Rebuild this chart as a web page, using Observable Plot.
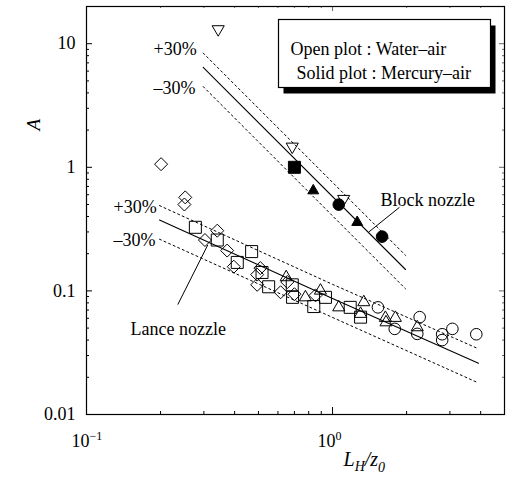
<!DOCTYPE html>
<html><head><meta charset="utf-8">
<script src="https://cdn.jsdelivr.net/npm/d3@7"></script>
<script src="https://cdn.jsdelivr.net/npm/@observablehq/plot@0.6"></script>
<style>body{margin:0;background:#fff} svg{display:block}</style>
</head><body><div id="chart"></div>
<script>
// ---- axis ticks / labels ----
const yMajorTicks = [0.01, 0.1, 1, 10];
const yTickLabels = ["0.01", "0.1", "1", "10"];
const yMinorTicks = [0.02,0.03,0.04,0.05,0.06,0.07,0.08,0.09,0.2,0.3,0.4,0.5,0.6,0.7,0.8,0.9,2,3,4,5,6,7,8,9];
const xMajorTicks = [0.1, 1];
const xTickBase = ["10", "10"];
const xTickExp = ["\u22121", "0"];
const xMinorTicks = [0.2,0.3,0.4,0.5,0.6,0.7,0.8,0.9,2,3,4];

// ---- Block nozzle data ----
const blockWaterDownX = [0.343, 0.686, 1.11];
const blockWaterDownA = [13.1, 1.47, 0.555];
const blockHgSquareX = [0.70];
const blockHgSquareA = [1.0];
const blockHgTriX = [0.835, 1.26];
const blockHgTriA = [0.647, 0.359];
const blockHgCircleX = [1.06, 1.59];
const blockHgCircleA = [0.499, 0.275];

// ---- Lance nozzle data (water-air, open) ----
const lanceDiamondX = [0.201, 0.252, 0.250, 0.34, 0.303, 0.373, 0.397, 0.509, 0.494, 0.494, 0.615, 0.655, 0.853, 0.70];
const lanceDiamondA = [1.06, 0.571, 0.50, 0.307, 0.258, 0.212, 0.157, 0.153, 0.1355, 0.112, 0.0975, 0.118, 0.092, 0.094];
const lanceSquareX = [0.277, 0.34, 0.469, 0.41, 0.517, 0.55, 0.686, 0.688, 0.936, 0.839, 1.18, 1.30];
const lanceSquareA = [0.327, 0.258, 0.208, 0.17, 0.141, 0.108, 0.112, 0.0887, 0.0887, 0.0747, 0.0736, 0.0613];
const lanceTriX = [0.648, 0.776, 0.893, 1.06, 1.34, 1.30, 1.64, 1.80, 1.65, 2.21];
const lanceTriA = [0.129, 0.0887, 0.1005, 0.0736, 0.081, 0.0652, 0.0605, 0.0605, 0.0557, 0.0508];
const lanceCircleX = [1.53, 1.79, 2.26, 2.21, 2.79, 2.79, 3.07, 3.84];
const lanceCircleA = [0.0736, 0.0493, 0.0613, 0.0449, 0.0446, 0.040, 0.0493, 0.0446];

// ---- correlation lines ----
const blockFitX = [0.298, 1.98];
const blockFitA = [6.43, 0.149];
const blockUpperA = [8.4, 0.194];
const blockLowerA = [4.5, 0.104];
const lanceFitX = [0.198, 1.0, 3.92];
const lanceFitA = [0.375, 0.087, 0.026];
const lanceUpperA = [0.49, 0.113, 0.034];
const lanceLowerA = [0.262, 0.061, 0.018];

// ---- leader lines (annotation) ----
const leaderX1 = [1.87, 0.235];
const leaderA1 = [0.474, 0.0775];
const leaderX2 = [1.405, 0.311];
const leaderA2 = [0.30, 0.235];

const rows = (xs, ys) => xs.map((x, i) => ({x, y: ys[i]}));

// custom symbols (r = sqrt(size/pi))
function sym(kind) {
  return {draw(ctx, size) {
    const r = Math.sqrt(size / Math.PI);
    const s60 = Math.sqrt(3) / 2;
    if (kind === "square") { ctx.moveTo(-r,-r); ctx.lineTo(r,-r); ctx.lineTo(r,r); ctx.lineTo(-r,r); ctx.closePath(); }
    else if (kind === "diamond") { ctx.moveTo(0,-r); ctx.lineTo(r,0); ctx.lineTo(0,r); ctx.lineTo(-r,0); ctx.closePath(); }
    else if (kind === "up") { ctx.moveTo(0,-r); ctx.lineTo(r*s60, r/2); ctx.lineTo(-r*s60, r/2); ctx.closePath(); }
    else if (kind === "down") { ctx.moveTo(0,r); ctx.lineTo(r*s60,-r/2); ctx.lineTo(-r*s60,-r/2); ctx.closePath(); }
    else { ctx.moveTo(r,0); ctx.arc(0,0,r,0,2*Math.PI); }
  }};
}

const font = "'Liberation Serif', 'Times New Roman', serif";
const W = 507, H = 494, mL = 86, mR = 3, mT = 6, mB = 80;
const pw = W - mL - mR, ph = H - mT - mB;

const open = {stroke: "black", fill: "none", strokeWidth: 1};
const solid = {stroke: "black", fill: "black", strokeWidth: 1};
const txt = {fontSize: 18, fill: "black", frameAnchor: "top-left", textAnchor: "start"};

const chart = Plot.plot({
  width: W, height: H,
  marginLeft: mL, marginRight: mR, marginTop: mT, marginBottom: mB,
  style: {fontFamily: font, background: "white", color: "black", overflow: "visible"},
  x: {type: "log", domain: [0.1, 5], axis: null},
  y: {type: "log", domain: [0.01, 20], axis: null},
  marks: [
    // inward ticks
    Plot.tickY(yMajorTicks, {y: d => d, insetRight: pw - 6, stroke: "black"}),
    Plot.tickY(yMinorTicks, {y: d => d, insetRight: pw - 3, stroke: "black"}),
    Plot.tickY(yMajorTicks, {y: d => d, insetLeft: pw - 5, stroke: "black", strokeOpacity: 0.6}),
    Plot.tickY(yMinorTicks, {y: d => d, insetLeft: pw - 2, stroke: "black", strokeOpacity: 0.6}),
    Plot.tickX(xMajorTicks, {x: d => d, insetTop: ph - 7, stroke: "black"}),
    Plot.tickX(xMinorTicks, {x: d => d, insetTop: ph - 3, stroke: "black"}),
    Plot.tickX(xMajorTicks, {x: d => d, insetBottom: ph - 5, stroke: "black", strokeOpacity: 0.6}),
    Plot.tickX(xMinorTicks, {x: d => d, insetBottom: ph - 2, stroke: "black", strokeOpacity: 0.6}),
    Plot.frame({stroke: "black", strokeWidth: 1.2}),
    // tick labels
    Plot.text(yMajorTicks, {y: d => d, text: (d, i) => yTickLabels[i], frameAnchor: "left", textAnchor: "end", dx: -11, fontSize: 18}),
    Plot.text(xMajorTicks, {x: d => d, text: (d, i) => xTickBase[i], frameAnchor: "bottom", textAnchor: "end", dx: 3, dy: 32, fontSize: 18}),
    Plot.text(xMajorTicks, {x: d => d, text: (d, i) => xTickExp[i], frameAnchor: "bottom", textAnchor: "start", dx: 3, dy: 25, fontSize: 12}),
    // axis titles
    Plot.text(["A"], {text: d => d, frameAnchor: "top-left", dx: -60, dy: 124, rotate: -90, fontSize: 19, fontStyle: "italic"}),
    Plot.text(["LH/z0"], {text: d => d, frameAnchor: "bottom-left", textAnchor: "start", dx: 257, dy: 51, fontSize: 20, fontStyle: "italic"}),
    // legend box with shadow
    Plot.frame({fill: "black", insetLeft: 197, insetRight: 9, insetTop: 19, insetBottom: 321}),
    Plot.frame({fill: "white", stroke: "black", strokeWidth: 1.2, insetLeft: 192, insetRight: 14, insetTop: 13, insetBottom: 327}),
    Plot.text(["Open plot : Water\u2013air"], {...txt, text: d => d, dx: 204, dy: 36}),
    Plot.text(["Solid plot : Mercury\u2013air"], {...txt, text: d => d, dx: 210, dy: 60}),
    // band labels
    Plot.text(["+30%"], {...txt, text: d => d, dx: 67, dy: 36}),
    Plot.text(["\u201330%"], {...txt, text: d => d, dx: 67, dy: 75}),
    Plot.text(["+30%"], {...txt, text: d => d, dx: 27, dy: 194}),
    Plot.text(["\u201330%"], {...txt, text: d => d, dx: 27, dy: 227}),
    Plot.text(["Block nozzle"], {...txt, text: d => d, dx: 294, dy: 187}),
    Plot.text(["Lance nozzle"], {...txt, text: d => d, dx: 44, dy: 316}),
    // correlation lines
    Plot.line(rows(blockFitX, blockFitA), {x: "x", y: "y", stroke: "black", strokeWidth: 1.1}),
    Plot.line(rows(blockFitX, blockUpperA), {x: "x", y: "y", stroke: "black", strokeWidth: 1, strokeDasharray: "2,3"}),
    Plot.line(rows(blockFitX, blockLowerA), {x: "x", y: "y", stroke: "black", strokeWidth: 1, strokeDasharray: "2,3"}),
    Plot.line(rows(lanceFitX, lanceFitA), {x: "x", y: "y", stroke: "black", strokeWidth: 1.1}),
    Plot.line(rows(lanceFitX, lanceUpperA), {x: "x", y: "y", stroke: "black", strokeWidth: 1, strokeDasharray: "2,3"}),
    Plot.line(rows(lanceFitX, lanceLowerA), {x: "x", y: "y", stroke: "black", strokeWidth: 1, strokeDasharray: "2,3"}),
    // leader lines
    Plot.link(leaderX1.map((x, i) => ({x1: x, y1: leaderA1[i], x2: leaderX2[i], y2: leaderA2[i]})), {x1: "x1", y1: "y1", x2: "x2", y2: "y2", stroke: "black", strokeWidth: 1}),
    // markers
    Plot.dot(rows(lanceSquareX, lanceSquareA), {x: "x", y: "y", symbol: sym("square"), r: 6, ...open}),
    Plot.dot(rows(lanceDiamondX, lanceDiamondA), {x: "x", y: "y", symbol: sym("diamond"), r: 6.5, ...open}),
    Plot.dot(rows(lanceTriX, lanceTriA), {x: "x", y: "y", symbol: sym("up"), r: 7, ...open}),
    Plot.dot(rows(lanceCircleX, lanceCircleA), {x: "x", y: "y", symbol: sym("circle"), r: 5.8, ...open}),
    Plot.dot(rows(blockWaterDownX, blockWaterDownA), {x: "x", y: "y", symbol: sym("down"), r: 7, ...open}),
    Plot.dot(rows(blockHgSquareX, blockHgSquareA), {x: "x", y: "y", symbol: sym("square"), r: 6, ...solid}),
    Plot.dot(rows(blockHgTriX, blockHgTriA), {x: "x", y: "y", symbol: sym("up"), r: 6.3, ...solid}),
    Plot.dot(rows(blockHgCircleX, blockHgCircleA), {x: "x", y: "y", symbol: sym("circle"), r: 5.8, ...solid})
  ]
});

// subscript formatting of the x-axis title
d3.select(chart).selectAll("text").filter(function() { return this.textContent === "LH/z0"; })
  .each(function() {
    const t = d3.select(this);
    t.text(null);
    t.append("tspan").text("L");
    t.append("tspan").attr("font-size", 14).attr("dy", 5).text("H");
    t.append("tspan").attr("dy", -5).text("/z");
    t.append("tspan").attr("font-size", 14).attr("dy", 6).text("0");
  });
d3.select(chart).selectAll("text").attr("font-family", font);

document.getElementById("chart").appendChild(chart);
</script>
</body></html>
